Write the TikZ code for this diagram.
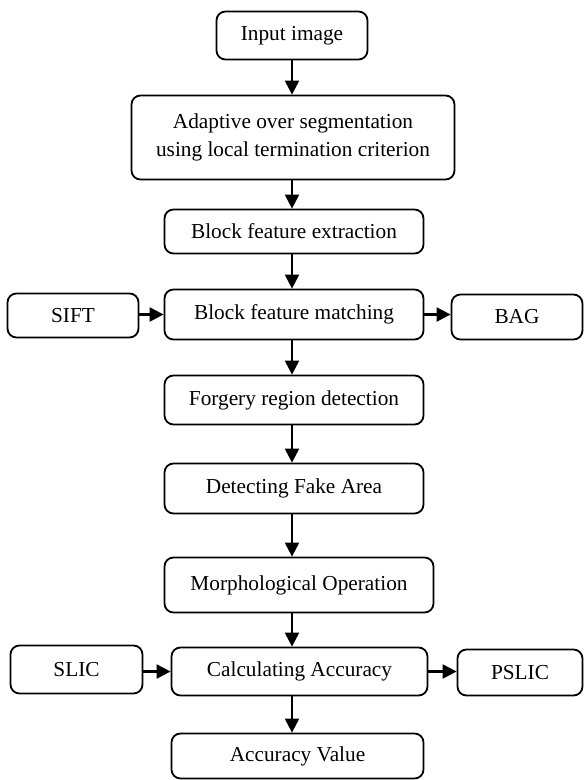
\documentclass[tikz,border=0pt]{standalone}
\usepackage{fontspec}
\setmainfont{Liberation Serif}
\usetikzlibrary{arrows.meta}
\begin{document}
\begin{tikzpicture}[x=1pt,y=-1pt,
  box/.style={draw=black, line width=1.8pt, rounded corners=9pt, inner sep=0pt, align=center,
    font=\fontsize{21.3}{28.5}\selectfont},
  arr/.style={line width=2.2pt, -{Triangle[length=14pt,width=14pt]}}]
\useasboundingbox (0,0) rectangle (584,780);
\coordinate (ax) at (292,0);
\node[box, minimum width=151pt, minimum height=48pt] (in) at (292,35.5) {Input image};
\node[box, minimum width=323pt, minimum height=84pt] (ad) at (293,137.5) {Adaptive over segmentation\\using local termination criterion};
\node[box, minimum width=259pt, minimum height=44pt] (ex) at (294,231.5) {Block feature extraction};
\node[box, minimum width=131pt, minimum height=44pt] (sift) at (73,315.5) {SIFT};
\node[box, minimum width=259pt, minimum height=50pt] (mat) at (294,314.5) {Block feature matching};
\node[box, minimum width=131pt, minimum height=45pt] (bag) at (517,317) {BAG};
\node[box, minimum width=259pt, minimum height=49pt] (fo) at (294,400) {Forgery region detection};
\node[box, minimum width=259pt, minimum height=50pt] (de) at (294,488.5) {Detecting Fake Area};
\node[box, minimum width=269pt, minimum height=55pt] (mo) at (299,585) {Morphological Operation};
\node[box, minimum width=132pt, minimum height=48pt] (slic) at (76.5,669.5) {SLIC};
\node[box, minimum width=256pt, minimum height=48pt] (ca) at (299.5,671.5) {Calculating Accuracy};
\node[box, minimum width=125pt, minimum height=46pt] (ps) at (520,672.5) {PSLIC};
\node[box, minimum width=252pt, minimum height=45pt] (av) at (297.5,756) {Accuracy Value};
\draw[arr] (in.south -| ax) -- (ad.north -| ax);
\draw[arr] (ad.south -| ax) -- (ex.north -| ax);
\draw[arr] (ex.south -| ax) -- (mat.north -| ax);
\draw[arr] (mat.south -| ax) -- (fo.north -| ax);
\draw[arr] (fo.south -| ax) -- (de.north -| ax);
\draw[arr] (de.south -| ax) -- (mo.north -| ax);
\draw[arr] (mo.south -| ax) -- (ca.north -| ax);
\draw[arr] (ca.south -| ax) -- (av.north -| ax);
\draw[arr] (sift.east |- mat) -- (mat.west);
\draw[arr] (mat.east) -- (mat.east -| bag.west);
\draw[arr] (slic.east |- ca) -- (ca.west);
\draw[arr] (ca.east) -- (ca.east -| ps.west);
\end{tikzpicture}
\end{document}
